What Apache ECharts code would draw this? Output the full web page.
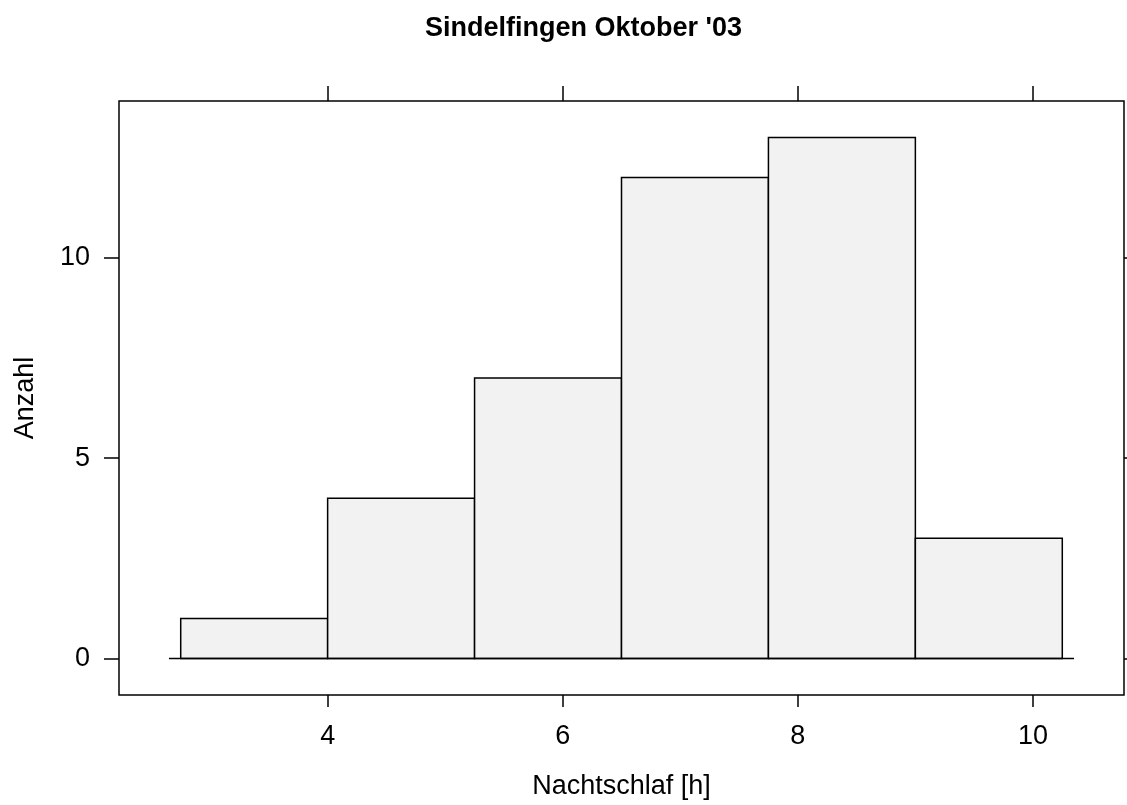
<!DOCTYPE html>
<html>
<head>
<meta charset="utf-8">
<title>Sindelfingen Oktober '03</title>
<script src="https://cdn.jsdelivr.net/npm/echarts@6/dist/echarts.min.js"></script>
<style>
  html, body { margin: 0; padding: 0; background: #fff; }
  #chart { width: 1127px; height: 805px; }
</style>
</head>
<body>
<div id="chart"></div>
<script>
// histogram bins (hours) and counts
const binStarts = [2.75, 4.0, 5.25, 6.5, 7.75, 9.0];
const binEnds = [4.0, 5.25, 6.5, 7.75, 9.0, 10.25];
const counts = [1, 4, 7, 12, 13, 3];
const xTicks = [4, 6, 8, 10];
const yTicks = [0, 5, 10];
const baseLine = [[2.65, 0], [10.35, 0]];

const font = "'Liberation Sans', Arial, sans-serif";

const bars = binStarts.map((s, i) => [s, binEnds[i], counts[i]]);

const chart = echarts.init(document.getElementById("chart"));

// common axis pieces
const tick = (len, vals) => ({
  show: true,
  inside: false,
  length: len,
  customValues: vals,
  lineStyle: { color: "#000", width: 1.5 },
});
const noLine = { show: false, onZero: false };

chart.setOption({
  animation: false,
  title: {
    text: "Sindelfingen Oktober '03",
    left: 420,
    top: 10,
    textStyle: { fontFamily: font, fontWeight: "bold", fontSize: 27, color: "#000" },
  },
  grid: {
    left: 119,
    top: 101,
    right: 3,
    bottom: 109,
    show: true,
    borderColor: "#000",
    borderWidth: 1.5,
    backgroundColor: "transparent",
  },
  xAxis: [
    {
      type: "value",
      position: "bottom",
      min: 2.225,
      max: 10.775,
      axisLine: noLine,
      splitLine: { show: false },
      axisTick: tick(12, xTicks),
      axisLabel: {
        customValues: xTicks,
        margin: 28,
        fontFamily: font,
        fontSize: 27,
        color: "#000",
      },
      name: "Nachtschlaf [h]",
      nameLocation: "middle",
      nameGap: 78,
      nameTextStyle: { fontFamily: font, fontSize: 27, color: "#000" },
    },
    {
      type: "value",
      position: "top",
      min: 2.225,
      max: 10.775,
      axisLine: noLine,
      splitLine: { show: false },
      axisTick: tick(15, xTicks),
      axisLabel: { show: false },
    },
  ],
  yAxis: [
    {
      type: "value",
      position: "left",
      min: -0.91,
      max: 13.91,
      axisLine: noLine,
      splitLine: { show: false },
      axisTick: tick(15, yTicks),
      axisLabel: {
        customValues: yTicks,
        margin: 29,
        fontFamily: font,
        fontSize: 27,
        color: "#000",
      },
      name: "Anzahl",
      nameLocation: "middle",
      nameGap: 80,
      nameRotate: 90,
      nameTextStyle: { fontFamily: font, fontSize: 27, color: "#000" },
    },
    {
      type: "value",
      position: "right",
      min: -0.91,
      max: 13.91,
      axisLine: noLine,
      splitLine: { show: false },
      axisTick: tick(15, yTicks),
      axisLabel: { show: false },
    },
  ],
  series: [
    {
      type: "custom",
      xAxisIndex: 0,
      yAxisIndex: 0,
      data: bars,
      renderItem: function (params, api) {
        const p0 = api.coord([api.value(0), api.value(2)]);
        const p1 = api.coord([api.value(1), 0]);
        return {
          type: "rect",
          shape: { x: p0[0], y: p0[1], width: p1[0] - p0[0], height: p1[1] - p0[1] },
          style: { fill: "#f2f2f2", stroke: "#000", lineWidth: 1.5 },
        };
      },
      z: 2,
    },
    {
      type: "line",
      xAxisIndex: 0,
      yAxisIndex: 0,
      data: baseLine,
      symbol: "none",
      lineStyle: { color: "#000", width: 1.5 },
      z: 3,
    },
  ],
});
</script>
</body>
</html>
